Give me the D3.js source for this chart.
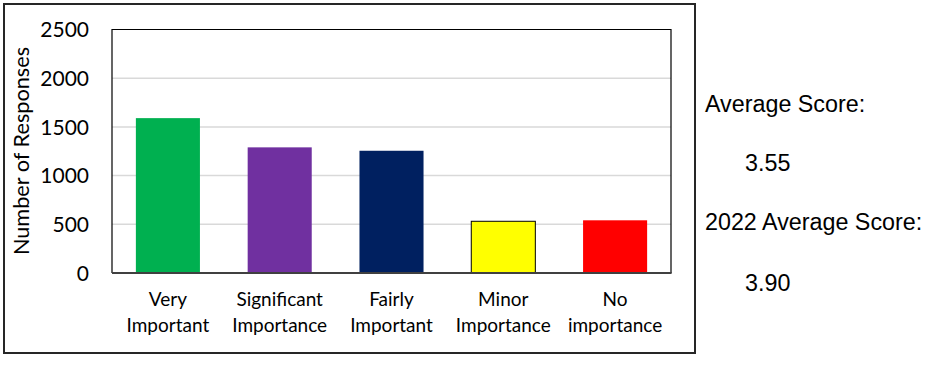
<!DOCTYPE html>
<html><head><meta charset="utf-8">
<script src="https://cdn.jsdelivr.net/npm/d3@7"></script>
<style>
html,body{margin:0;padding:0;background:#fff;}
svg{display:block;}
</style></head>
<body>
<svg id="chart" width="935" height="368"></svg>
<script>
const categories = [["Very","Important"],["Significant","Importance"],["Fairly","Important"],["Minor","Importance"],["No","importance"]];
const values = [1590, 1290, 1255, 531, 541];
const colors = ["#00b050","#7030a0","#002060","#ffff00","#ff0000"];
const yTicks = [0, 500, 1000, 1500, 2000, 2500];
const sideLabels = ["Average Score:", "3.55", "2022 Average Score:", "3.90"];

const svg = d3.select("#chart");
const plot = {left:112, top:29.5, right:671, bottom:273};
const font = "Lato, 'Open Sans', sans-serif";

svg.append("rect").attr("x",4).attr("y",4).attr("width",691).attr("height",349)
  .attr("fill","#fff").attr("stroke","#262626").attr("stroke-width",2);

const x = d3.scaleBand().domain(d3.range(values.length)).range([plot.left, plot.right]).paddingInner(0.427).paddingOuter(0.2135);
const y = d3.scaleLinear().domain([0,2500]).range([plot.bottom, plot.top]);

svg.append("g").selectAll("line").data(yTicks.filter(t=>t>0 && t<2500)).join("line")
  .attr("x1",plot.left).attr("x2",plot.right)
  .attr("y1",d=>y(d)).attr("y2",d=>y(d))
  .attr("stroke","#d9d9d9").attr("stroke-width",1.5);

svg.append("g").selectAll("rect").data(values).join("rect")
  .attr("x",(d,i)=>x(i)).attr("width",x.bandwidth())
  .attr("y",d=>y(d)).attr("height",d=>y(0)-y(d))
  .attr("fill",(d,i)=>colors[i])
  .attr("stroke",(d,i)=> i===3 ? "#000" : "none").attr("stroke-width",1);

svg.append("path")
  .attr("d",`M${plot.left},${plot.bottom}V${plot.top}H${plot.right}V${plot.bottom}`)
  .attr("fill","none").attr("stroke","#000").attr("stroke-width",1.2);
svg.append("line").attr("x1",plot.left).attr("x2",plot.right+0.6)
  .attr("y1",plot.bottom).attr("y2",plot.bottom)
  .attr("stroke","#404040").attr("stroke-width",2.2);

const yAxis = d3.axisLeft(y).tickValues(yTicks).tickSize(0).tickPadding(0).tickFormat(d3.format("d"));
const ga = svg.append("g").attr("transform",`translate(89,0)`).call(yAxis);
ga.select(".domain").remove();
ga.selectAll("text").attr("font-family",font).attr("font-size",21).attr("fill","#000").attr("dy","0.35em");

svg.append("text").attr("transform",`translate(29,151) rotate(-90)`)
  .attr("text-anchor","middle").attr("font-family",font)
  .attr("font-size",21.7).attr("fill","#000").text("Number of Responses");

const cg = svg.append("g").selectAll("text").data(categories).join("text")
  .attr("text-anchor","middle").attr("font-family",font)
  .attr("font-size",19).attr("fill","#000")
  .attr("x",(d,i)=>x(i)+x.bandwidth()/2).attr("y",306);
cg.selectAll("tspan").data(d=>d).join("tspan")
  .attr("x",function(){return this.parentNode.getAttribute("x");})
  .attr("dy",(d,i)=>i===0?0:26).text(d=>d);

const sidePos = [[705,112],[745,171],[705,230],[745,291]];
svg.append("g").selectAll("text").data(sideLabels).join("text")
  .attr("x",(d,i)=>sidePos[i][0]).attr("y",(d,i)=>sidePos[i][1])
  .attr("font-family","'Liberation Sans', Arial, sans-serif").attr("font-size",23.3)
  .attr("fill","#000").text(d=>d);
</script>
</body></html>
